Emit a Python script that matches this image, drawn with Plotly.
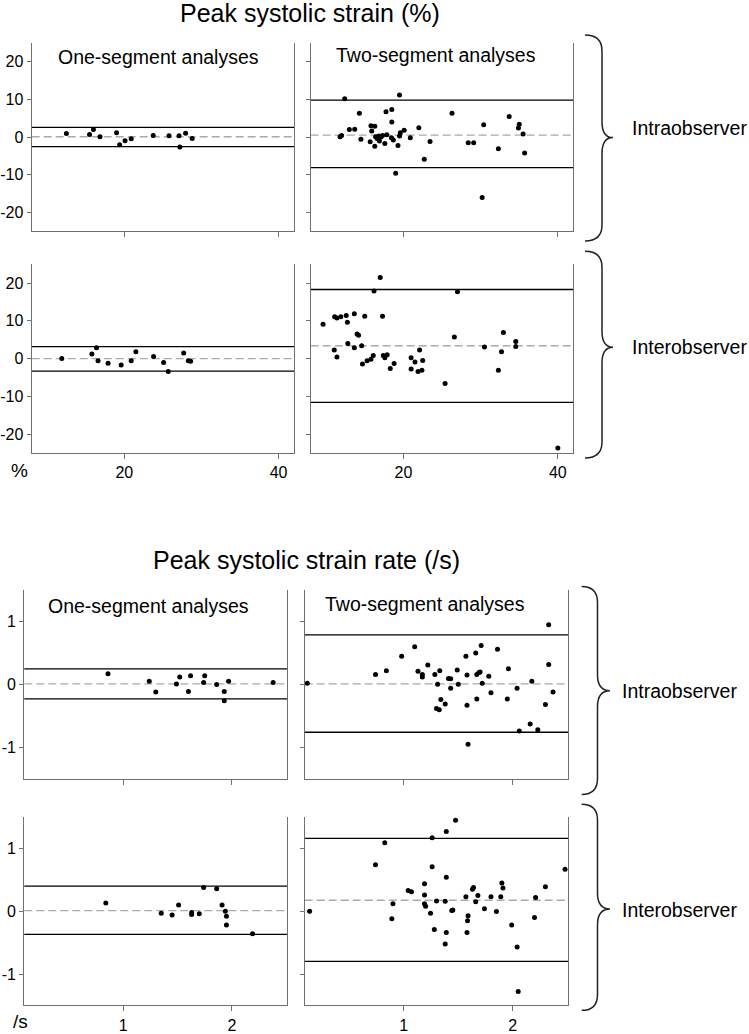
import plotly.graph_objects as go

# ---------------- DATA ----------------
# Peak systolic strain (%) -- one-segment, intraobserver
s_one_intra_x = [12.5, 15.5, 16.0, 16.85, 19.0, 19.4, 20.1, 20.9, 23.75, 25.8, 27.1, 27.2, 27.95, 28.8]
s_one_intra_y = [0.97, 0.7, 2.0, 0.1, 1.15, -2.0, -1.0, -0.45, 0.45, 0.35, 0.35, -2.65, 1.05, -0.35]
s_one_intra_lines = [0.1, 2.6, -2.5]  # mean, upper, lower

# two-segment, intraobserver
s_two_intra_x = [12.4, 19.5, 14.3, 17.75, 18.5, 18.5, 15.8, 16.3, 13.0, 13.7, 15.9, 11.8, 12.0, 14.5,
                 15.7, 16.3, 16.4, 16.6, 16.8, 16.9, 17.1, 17.3, 17.6, 17.85, 18.45, 18.7, 19.3, 19.5,
                 19.6, 20.1, 20.9, 22.0, 23.45, 22.7, 19.0, 26.3, 28.4, 29.1, 30.4, 30.2, 32.3, 33.7,
                 35.0, 34.9, 35.5, 35.7]
s_two_intra_y = [10.2, 11.2, 6.3, 6.7, 7.3, 4.0, 3.0, 2.9, 2.0, 2.1, 1.6, 0.1, 0.45, -0.6,
                 -1.2, -2.4, 0.1, -0.4, 0.3, -1.05, 0.0, 0.45, -1.7, 0.6, -0.2, -0.8, -2.2, 0.3,
                 1.15, 1.85, -0.2, 2.5, -1.15, -5.9, -9.6, 6.35, -1.5, -1.5, 3.3, -16.0, -3.1, 5.5,
                 3.4, 2.4, 0.8, -4.2]
s_two_intra_lines = [0.5, 9.8, -8.1]

# one-segment, interobserver
s_one_inter_x = [11.9, 15.8, 16.4, 16.6, 17.9, 19.6, 20.9, 21.5, 23.8, 25.1, 25.7, 27.7, 28.3, 28.6]
s_one_inter_y = [0.0, 1.25, 2.9, -0.55, -1.25, -1.7, -0.55, 1.8, 0.55, -1.0, -3.4, 1.5, -0.6, -0.7]
s_one_inter_lines = [0.0, 3.2, -3.3]

# two-segment, interobserver
s_two_inter_x = [17.0, 16.2, 27.0, 9.6, 11.1, 11.4, 11.9, 12.6, 12.75, 13.65, 15.0, 17.3, 14.0, 14.2,
                 12.8, 13.65, 14.6, 11.05, 11.4, 14.7, 15.3, 15.8, 16.1, 17.4, 17.6, 17.9, 18.3, 18.8,
                 21.0, 21.0, 21.5, 22.1, 22.5, 21.9, 22.4, 25.4, 26.6, 30.5, 32.3, 32.7, 32.95, 34.55,
                 34.55, 40.0]
s_two_inter_y = [21.5, 17.9, 17.7, 9.1, 11.1, 10.75, 11.1, 11.4, 9.6, 11.9, 11.2, 11.2, 6.5, 6.2,
                 4.0, 2.85, 3.4, 2.3, 0.45, -1.4, -0.6, -0.2, 0.8, 0.8, 0.2, 1.05, -2.6, -1.3,
                 0.25, -2.75, -0.9, 2.3, -0.5, -3.4, -3.1, -6.6, 5.7, 3.1, -3.1, 1.8, 6.9, 4.5,
                 3.2, -23.7]
s_two_inter_lines = [3.4, 18.3, -11.6]

# Peak systolic strain rate (/s) -- one-segment, intraobserver
r_one_intra_x = [0.86, 1.24, 1.30, 1.49, 1.52, 1.60, 1.62, 1.74, 1.75, 1.86, 1.93, 1.97, 1.93, 2.38]
r_one_intra_y = [0.17, 0.05, -0.12, 0.01, 0.12, -0.11, 0.14, 0.03, 0.14, 0.0, -0.11, 0.05, -0.26, 0.03]
r_one_intra_lines = [0.01, 0.25, -0.23]

# two-segment, intraobserver
r_two_intra_x = [0.114, 0.74, 0.84, 0.98, 1.10, 1.13, 1.17, 1.17, 1.22, 1.285, 1.33, 1.31, 1.30, 1.325,
                 1.34, 1.38, 1.41, 1.43, 1.43, 1.49, 1.50, 1.57, 1.58, 1.58, 1.59, 1.66, 1.67, 1.69,
                 1.70, 1.67, 1.71, 1.72, 1.78, 1.80, 1.86, 1.95, 1.96, 2.04, 2.06, 2.16, 2.175, 2.23,
                 2.30, 2.33, 2.33, 2.37]
r_two_intra_y = [0.02, 0.16, 0.22, 0.45, 0.60, 0.21, 0.16, 0.12, 0.31, 0.16, 0.22, 0.005, -0.38, -0.40,
                 -0.24, -0.31, 0.095, 0.09, -0.06, 0.23, 0.005, 0.45, 0.15, -0.33, -0.95, 0.50, 0.16, 0.19,
                 0.20, -0.23, 0.62, 0.02, 0.13, -0.13, 0.56, -0.23, 0.25, -0.06, -0.74, -0.63, 0.05, -0.72,
                 -0.32, 0.32, 0.95, -0.12]
r_two_intra_lines = [0.01, 0.79, -0.76]

# one-segment, interobserver
r_one_inter_x = [0.84, 1.35, 1.45, 1.51, 1.63, 1.63, 1.70, 1.74, 1.86, 1.91, 1.94, 1.95, 1.95, 2.19]
r_one_inter_y = [0.13, -0.03, -0.06, 0.10, -0.02, -0.05, -0.04, 0.38, 0.36, 0.10, 0.0, -0.08, -0.22, -0.36]
r_one_inter_lines = [0.01, 0.40, -0.37]

# two-segment, interobserver
r_two_inter_x = [0.135, 0.74, 0.825, 0.89, 0.90, 1.04, 1.07, 1.19, 1.19, 1.19, 1.20, 1.245, 1.26, 1.26,
                 1.28, 1.30, 1.38, 1.39, 1.39, 1.39, 1.38, 1.44, 1.45, 1.475, 1.57, 1.585, 1.59, 1.58,
                 1.63, 1.64, 1.66, 1.68, 1.74, 1.80, 1.85, 1.89, 1.90, 1.91, 1.99, 2.04, 2.05, 2.20,
                 2.21, 2.30, 2.48]
r_two_inter_y = [0.0, 0.74, 1.09, -0.12, 0.12, 0.33, 0.31, 0.44, 0.26, 0.12, 0.08, -0.03, 1.17, 0.71,
                 -0.29, 0.165, 0.16, 1.27, 0.54, -0.34, -0.52, 0.01, 0.02, 1.45, 0.23, -0.15, -0.07, -0.34,
                 0.35, 0.38, 0.15, 0.25, 0.04, 0.23, -0.005, 0.23, 0.45, 0.37, -0.22, -0.57, -1.28, -0.10,
                 0.22, 0.39, 0.67]
r_two_inter_lines = [0.175, 1.16, -0.80]

# Axis ticks / labels
strain_x_ticks = [20, 40]
strain_x_labels = ["20", "40"]
strain_y_ticks = [-20, -10, 0, 10, 20]
strain_y_labels = ["-20", "-10", "0", "10", "20"]
rate_x_ticks = [1, 2]
rate_x_labels = ["1", "2"]
rate_y_ticks = [-1, 0, 1]
rate_y_labels = ["-1", "0", "1"]
strain_x_range = [8, 42]
strain_y_range = [-25, 25]
rate_x_range = [0.09, 2.51]
rate_y_range = [-1.5, 1.5]

title_strain = "Peak systolic strain (%)"
title_rate = "Peak systolic strain rate (/s)"
label_one = "One-segment analyses"
label_two = "Two-segment analyses"
label_intra = "Intraobserver"
label_inter = "Interobserver"

# ---------------- LAYOUT HELPERS ----------------
W, H = 749, 1034
FONT = "Arial, Liberation Sans, sans-serif"


def fx(p):
    return p / W


def fy(p):
    return 1 - p / H


AXC = "#707070"

panels = [
    # x data, y data, lines, x px domain, y px domain (top,bottom), section, show x labels, show y labels
    (s_one_intra_x, s_one_intra_y, s_one_intra_lines, (31.7, 294.0), (43, 232), "s", False, True),
    (s_two_intra_x, s_two_intra_y, s_two_intra_lines, (310.7, 573.3), (43, 232), "s", False, False),
    (s_one_inter_x, s_one_inter_y, s_one_inter_lines, (31.7, 294.0), (265, 454.3), "s", True, True),
    (s_two_inter_x, s_two_inter_y, s_two_inter_lines, (310.7, 573.3), (265, 454.3), "s", True, False),
    (r_one_intra_x, r_one_intra_y, r_one_intra_lines, (24.3, 287.3), (592, 781), "r", False, True),
    (r_two_intra_x, r_two_intra_y, r_two_intra_lines, (304.7, 568.3), (592, 781), "r", False, False),
    (r_one_inter_x, r_one_inter_y, r_one_inter_lines, (24.3, 287.3), (819.5, 1008.3), "r", True, True),
    (r_two_inter_x, r_two_inter_y, r_two_inter_lines, (304.7, 568.3), (819.5, 1008.3), "r", True, False),
]

fig = go.Figure()
shapes = []
layout_axes = {}

for i, (xs, ys, lines, xd, yd, sec, showx, showy) in enumerate(panels, start=1):
    xname = "x" if i == 1 else f"x{i}"
    yname = "y" if i == 1 else f"y{i}"
    fig.add_trace(go.Scatter(
        x=xs, y=ys, mode="markers", xaxis=xname, yaxis=yname,
        marker=dict(color="black", size=5), showlegend=False, hoverinfo="skip"))
    mean, upper, lower = lines
    for val, col, dash, wid in [(upper, "black", "solid", 1.3), (lower, "black", "solid", 1.3),
                                (mean, "#aaaaaa", "8px,4px", 1.3)]:
        shapes.append(dict(type="line", xref=f"{xname} domain", yref=yname,
                           x0=0, x1=1, y0=val, y1=val,
                           line=dict(color=col, width=wid, dash=dash), layer="below"))
    if sec == "s":
        xt, xl, yt, yl, xr, yr = strain_x_ticks, strain_x_labels, strain_y_ticks, strain_y_labels, strain_x_range, strain_y_range
    else:
        xt, xl, yt, yl, xr, yr = rate_x_ticks, rate_x_labels, rate_y_ticks, rate_y_labels, rate_x_range, rate_y_range
    xkey = "xaxis" if i == 1 else f"xaxis{i}"
    ykey = "yaxis" if i == 1 else f"yaxis{i}"
    layout_axes[xkey] = dict(
        domain=[fx(xd[0]), fx(xd[1])], anchor=yname, range=xr,
        tickvals=xt, ticktext=xl, showticklabels=showx,
        ticks="outside", ticklen=5, tickcolor=AXC, showline=True, linecolor=AXC, linewidth=1.2,
        showgrid=False, zeroline=False, tickfont=dict(size=16, color="black", family=FONT))
    layout_axes[ykey] = dict(
        domain=[fy(yd[1]), fy(yd[0])], anchor=xname, range=yr,
        tickvals=yt, ticktext=yl, showticklabels=showy,
        ticks="outside", ticklen=4, tickcolor=AXC, showline=True, linecolor=AXC, linewidth=1.2,
        mirror=True, showgrid=False, zeroline=False,
        tickfont=dict(size=16, color="black", family=FONT))


# Curly braces (decorative)
def brace(tip_x, v_x, pt_x, top, mid, bot, r=16):
    pts = (f"M {fx(tip_x)},{fy(top)} "
           f"Q {fx(v_x)},{fy(top)} {fx(v_x)},{fy(top + r)} "
           f"L {fx(v_x)},{fy(mid - r)} "
           f"Q {fx(v_x)},{fy(mid)} {fx(pt_x)},{fy(mid)} "
           f"Q {fx(v_x)},{fy(mid)} {fx(v_x)},{fy(mid + r)} "
           f"L {fx(v_x)},{fy(bot - r)} "
           f"Q {fx(v_x)},{fy(bot)} {fx(tip_x)},{fy(bot)}")
    return dict(type="path", xref="paper", yref="paper", path=pts,
                line=dict(color="#222222", width=1.5))


shapes.append(brace(585, 602, 613, 35, 138, 241.7))
shapes.append(brace(585, 602, 613, 252, 348.3, 459.3))
shapes.append(brace(581.7, 597.5, 610, 588.3, 692.7, 796.7))
shapes.append(brace(581.7, 597.5, 610, 806.7, 911.7, 1013.3))

annotations = []


def ann(text, x, y, size):
    annotations.append(dict(text=text, x=fx(x), y=fy(y), xref="paper", yref="paper",
                            showarrow=False, xanchor="center", yanchor="middle",
                            font=dict(size=size, color="black", family=FONT)))


ann(title_strain, 310, 13.5, 25)
ann(title_rate, 306, 562, 25)
ann(label_one, 158.5, 57, 19.5)
ann(label_two, 435.7, 55, 19.5)
ann(label_one, 148.3, 608, 19.5)
ann(label_two, 425, 606, 19.5)
ann(label_intra, 689.2, 128.7, 19.5)
ann(label_inter, 689.2, 348.3, 19.5)
ann(label_intra, 679, 693.3, 19.5)
ann(label_inter, 679, 913, 19.5)
ann("%", 19, 472, 19)
ann("/s", 20.5, 1024, 19)

fig.update_layout(
    width=W, height=H, margin=dict(l=0, r=0, t=0, b=0),
    paper_bgcolor="white", plot_bgcolor="white",
    font=dict(family=FONT, color="black"),
    shapes=shapes, annotations=annotations, showlegend=False,
    **layout_axes)

fig.write_html("out.html", config={"displayModeBar": False},
               post_script="document.body.style.margin='0';document.body.style.overflow='hidden';")
